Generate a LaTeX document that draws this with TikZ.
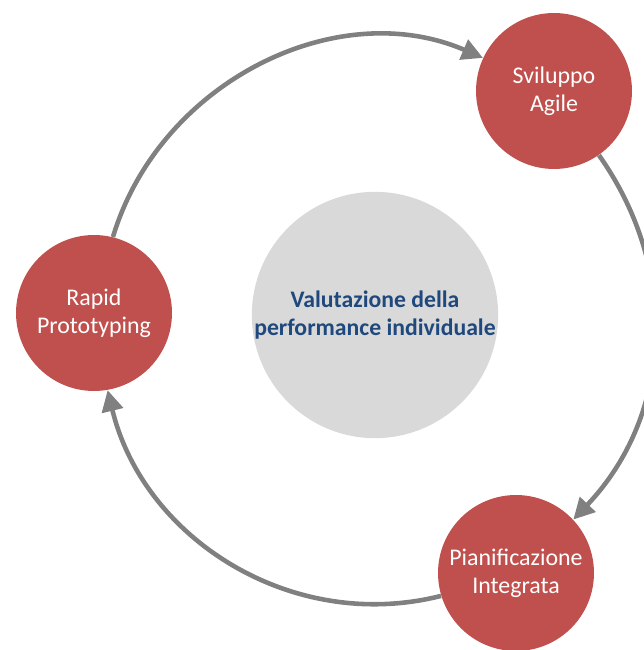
\documentclass[tikz,border=0pt]{standalone}
\usepackage{fontspec}
\setmainfont{Carlito}
\usetikzlibrary{arrows.meta}
\definecolor{phasered}{HTML}{C0504D}
\definecolor{hubgray}{HTML}{D9D9D9}
\definecolor{ringgray}{HTML}{808080}
\definecolor{hubblue}{HTML}{1F497D}

\begin{document}
\begin{tikzpicture}[x=0.02cm,y=0.02cm,
phase/.style={circle,fill=phasered,text=white,inner sep=0pt,minimum size=3.12cm,align=center,font=\fontsize{13.6}{16}\selectfont},
hub/.style={circle,fill=hubgray,text=hubblue,inner sep=0pt,minimum size=4.88cm,align=center,font=\bfseries\fontsize{13.5}{16.4}\selectfont},
link/.style={draw=ringgray,line width=2.6pt,-{Triangle[length=12pt,width=12pt]}}]
 \useasboundingbox (0,0) rectangle (644,650);
 \node[hub] (val) at (375,335) {Valutazione della\\performance individuale};
 \node[phase] (sv) at (554,559) {Sviluppo\\Agile};
 \node[phase] (pi) at (516,77) {Pianificazione\\Integrata};
 \node[phase] (rp) at (94,337) {Rapid\\Prototyping};
 % ring of arrows, clockwise
 \foreach \A/\B/\O/\I in {rp.76.4/sv.155.9/73.3/156.7, sv.305.7/pi.43/-54.8/46.4, pi.197.8/rp.280.5/194.2/-76.4}
  \draw[link] (\A) to[out=\O,in=\I] (\B);
\end{tikzpicture}
\end{document}
